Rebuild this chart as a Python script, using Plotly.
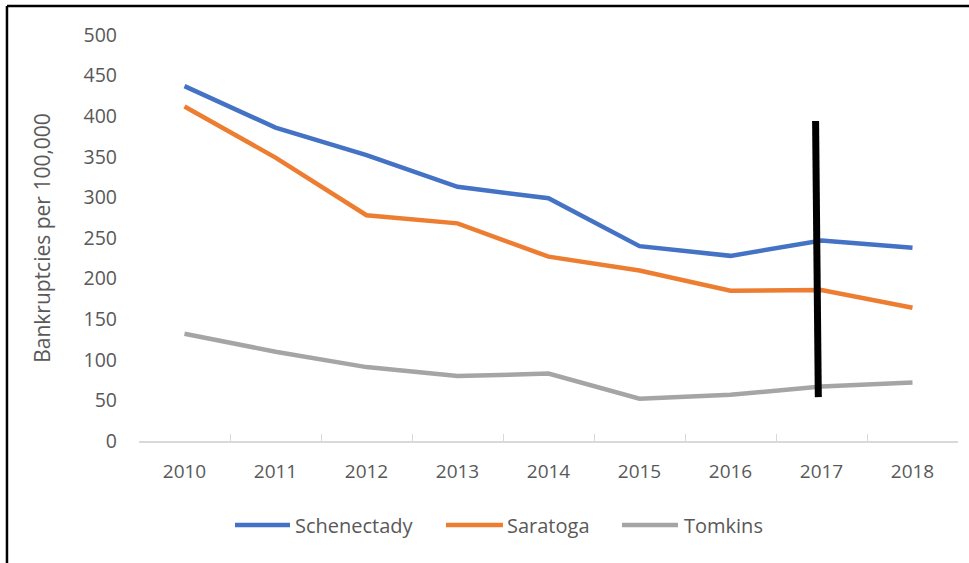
import plotly.graph_objects as go

years = ["2010", "2011", "2012", "2013", "2014", "2015", "2016", "2017", "2018"]
series_names = ["Schenectady", "Saratoga", "Tomkins"]
schenectady = [437, 386, 352, 313, 299, 240, 228, 247, 238]
saratoga = [412, 349, 278, 268, 227, 210, 185, 186, 164]
tomkins = [132, 110, 91, 80, 83, 52, 57, 67, 72]
y_ticks = [0, 50, 100, 150, 200, 250, 300, 350, 400, 450, 500]
colors = ["#4472C4", "#ED7D31", "#A5A5A5"]

# annotation marker line (category-index positions, data values)
marker_x = [6.935, 6.965]
marker_y = [394, 54]

FONT = "Open Sans"
GREY = "#595959"

fig = go.Figure()
for name, vals, col in zip(series_names, [schenectady, saratoga, tomkins], colors):
    fig.add_trace(go.Scatter(x=years, y=vals, name=name, mode="lines",
                             line=dict(color=col, width=4.5),
                             hoverinfo="skip", showlegend=False))

fig.add_shape(type="line", xref="x", yref="y",
              x0=marker_x[0], y0=marker_y[0], x1=marker_x[1], y1=marker_y[1],
              line=dict(color="black", width=7))

# frame (left + top border)
fig.add_shape(type="line", xref="paper", yref="paper",
              x0=-0.1612, x1=-0.1612, y0=-0.35, y1=1.0714,
              line=dict(color="black", width=2.5))
fig.add_shape(type="line", xref="paper", yref="paper",
              x0=-0.1612, x1=1.02, y0=1.0714, y1=1.0714,
              line=dict(color="black", width=2.5))

# legend drawn manually (Excel style long line keys)
leg_y = -0.207
leg_items = [(0.1172, 0.1844, 0.1893), (0.3748, 0.4444, 0.4481), (0.5897, 0.6581, 0.6642)]
for name, col, (xa, xb, xt) in zip(series_names, colors, leg_items):
    fig.add_shape(type="line", xref="paper", yref="paper",
                  x0=xa, x1=xb, y0=leg_y, y1=leg_y,
                  line=dict(color=col, width=4.5))
    fig.add_annotation(xref="paper", yref="paper", x=xt, y=leg_y,
                       xanchor="left", yanchor="middle", showarrow=False,
                       text=name, font=dict(size=20, color=GREY, family=FONT),
                       borderpad=0)

fig.update_layout(
    width=969, height=563,
    margin=dict(l=139, r=11, t=35, b=122),
    paper_bgcolor="white", plot_bgcolor="white",
    font=dict(family=FONT, color=GREY, size=19),
    showlegend=False,
    xaxis=dict(type="category", range=[-0.5, 8.5], tickson="boundaries",
               ticks="inside", ticklen=7, tickcolor="#D9D9D9",
               showline=True, linecolor="#D9D9D9", linewidth=1.5,
               showgrid=False, zeroline=False,
               tickfont=dict(size=19, color=GREY), ticklabelstandoff=12),
    yaxis=dict(range=[0, 500], tickvals=y_ticks, showgrid=False, zeroline=False,
               showline=False, ticks="", tickfont=dict(size=19.5, color=GREY),
               ticklabelstandoff=21,
               title=dict(text="Bankruptcies per 100,000", font=dict(size=21, color=GREY),
                          standoff=27)),
)

fig.write_html("out.html", config={"displayModeBar": False},
               post_script="document.body.style.margin='0';")
